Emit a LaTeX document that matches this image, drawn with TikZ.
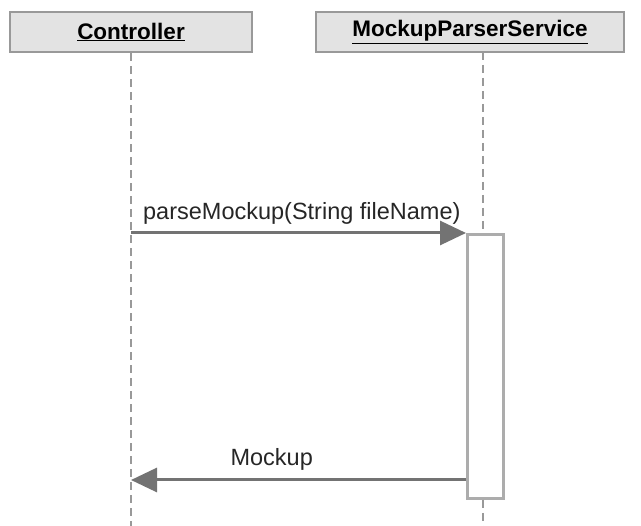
\documentclass[tikz,border=0pt]{standalone}
\usepackage{fontspec}
\setmainfont{Liberation Sans}
\usetikzlibrary{arrows.meta}
\begin{document}
\begin{tikzpicture}[x=1pt,y=-1pt,
  lifebox/.style={draw=gray!80,line width=2.6pt,fill=gray!22,inner sep=0pt,
    font=\fontsize{22.5}{26}\selectfont\bfseries},
  lifeline/.style={gray!80,line width=2.6pt,dash pattern=on 8pt off 5pt},
  activation/.style={draw=gray!65,line width=2.8pt,fill=white},
  msg/.style={draw=gray!90!black,line width=3pt,
    -{Triangle[length=26pt,width=24pt]}},
  msglabel/.style={font=\fontsize{23.5}{27}\selectfont,text=black!85}]
\useasboundingbox (0,0) rectangle (641,526);
% participants
\node[lifebox,minimum width=242pt,minimum height=40pt] (ctl) at (131,32) {\underline{Controller}};
\node[lifebox,minimum width=308pt,minimum height=40pt] (mps) at (470,32) {\underline{MockupParserService}};
% lifeline anchors
\coordinate (ctlEnd) at (131,526);
\coordinate (mpsTop) at (483,52);
\coordinate (mpsEnd) at (483,526);
\coordinate (ctlCall) at (131,233);
\coordinate (ctlRet) at (131,480);
% activation bar
\node[activation,minimum width=36pt,minimum height=264pt,inner sep=0pt,anchor=north west] (act) at (466,233) {};
% lifelines
\draw[lifeline] (ctl.south -| ctlEnd) -- (ctlEnd);
\draw[lifeline] (mpsTop) -- (act.north -| mpsTop);
\draw[lifeline] (act.south -| mpsTop) -- (mpsEnd);
% messages
\draw[msg] (ctlCall) -- (ctlCall -| act.west)
  node[msglabel,pos=0.51,above=4pt] (m1) {parseMockup(String fileName)};
\draw[msg] (ctlRet -| act.west) -- (ctlRet)
  node[msglabel,pos=0.58,above=5pt] (m2) {Mockup};
\end{tikzpicture}
\end{document}
